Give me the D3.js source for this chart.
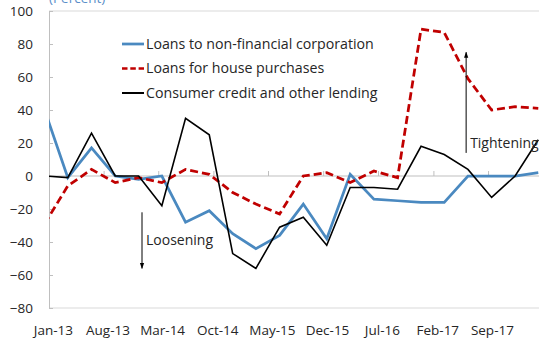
<!DOCTYPE html>
<html>
<head>
<meta charset="utf-8">
<script src="https://cdn.jsdelivr.net/npm/d3@7"></script>
<style>
  html, body { margin: 0; padding: 0; background: #fff; }
  svg { display: block; }
  text { font-family: "Open Sans", "Noto Sans", sans-serif; }
</style>
</head>
<body>
<svg id="chart" width="539" height="341"></svg>
<script>
// ---- data (quarterly observations; first one falls just before the axis start) ----
const dates = ["2012-12-15","2013-03-15","2013-06-15","2013-09-15","2013-12-15",
  "2014-03-15","2014-06-15","2014-09-15","2014-12-15","2015-03-15","2015-06-15",
  "2015-09-15","2015-12-15","2016-03-15","2016-06-15","2016-09-15","2016-12-15",
  "2017-03-15","2017-06-15","2017-09-15","2017-12-15","2018-03-15"];
const corporations = [40, -1, 17, 0, -2, 0, -28, -21, -35, -44, -36, -17, -38, 1, -14, -15, -16, -16, 0, 0, 0, 2];
const housePurchases = [-29, -6, 4, -4, -1, -4, 4, 1, -10, -17, -23, 0, 2, -4, 3, -1, 89, 87, 59, 40, 42, 41];
const consumerCredit = [0, -1, 26, 0, 0, -18, 35, 25, -47, -56, -31, -25, -42, -7, -7, -8, 18, 13, 4, -13, 0, 22];
const seriesNames = ["Loans to non-financial corporation", "Loans for house purchases", "Consumer credit and other lending"];
const xTickLabels = ["Jan-13","Aug-13","Mar-14","Oct-14","May-15","Dec-15","Jul-16","Feb-17","Sep-17"];
const yTicks = [-80, -60, -40, -20, 0, 20, 40, 60, 80, 100];
const unitLabel = "(Percent)";
const annotations = [
  {text: "Loosening", date: "2013-12-28", from: -22, to: -56},
  {text: "Tightening", date: "2017-06-08", from: 14, to: 75}
];

// ---- layout ----
const svg = d3.select("#chart");
const mLeft = 49, mTop = 11, mBottom = 308, mRight = 570;
const parse = d3.timeParse("%Y-%m-%d");
const parseTick = d3.timeParse("%b-%y");
const tickDates = xTickLabels.map(parseTick);

const x = d3.scaleTime()
  .domain([parseTick("Jan-13"), parseTick("Sep-17")])
  .range([mLeft, mLeft + 56 * 7.84]);
const y = d3.scaleLinear().domain([-80, 100]).range([mBottom, mTop]);

const textColor = "#262626";

// clip
const defs = svg.append("defs");
defs.append("clipPath").attr("id", "clip")
  .append("rect").attr("x", mLeft).attr("y", mTop).attr("width", mRight - mLeft).attr("height", mBottom - mTop);

// plot border (top / bottom)
svg.append("line").attr("x1", mLeft).attr("x2", mRight).attr("y1", y(100)).attr("y2", y(100))
  .attr("stroke", "#d9d9d9").attr("stroke-width", 1);
svg.append("line").attr("x1", mLeft).attr("x2", mRight).attr("y1", y(-80)).attr("y2", y(-80))
  .attr("stroke", "#d9d9d9").attr("stroke-width", 1);

// y axis
const yAxis = svg.append("g").attr("transform", `translate(${mLeft},0)`)
  .call(d3.axisLeft(y).tickValues(yTicks).tickSizeInner(-4).tickSizeOuter(0).tickPadding(16));
yAxis.select(".domain").attr("stroke", "#bfbfbf");
yAxis.selectAll(".tick line").attr("stroke", "#bfbfbf");
yAxis.selectAll("text").attr("fill", textColor).style("font-size", "13.5px")
  .style("font-family", "'Open Sans', sans-serif");

// zero line with upward ticks
const zeroAxis = svg.append("g").attr("transform", `translate(0,${y(0)})`)
  .call(d3.axisTop(x).tickValues(tickDates).tickSizeInner(5).tickSizeOuter(0).tickFormat(""));
zeroAxis.select(".domain").attr("stroke", "#bfbfbf").attr("d", `M${mLeft},0H${mRight}`);
zeroAxis.selectAll(".tick line").attr("stroke", "#bfbfbf");

// bottom labels (centred within their month)
const labelAxis = svg.append("g").attr("transform", `translate(0,${mBottom})`)
  .call(d3.axisBottom(x)
    .tickValues(tickDates.map(d => d3.timeDay.offset(d, 15)))
    .tickSize(0).tickPadding(17)
    .tickFormat((d, i) => xTickLabels[i]));
labelAxis.select(".domain").remove();
labelAxis.selectAll("text").attr("fill", textColor).style("font-size", "13.5px")
  .style("font-family", "'Open Sans', sans-serif");

// unit label (partly cut at top, as in the source)
svg.append("text").attr("x", mLeft).attr("y", 3).text(unitLabel)
  .attr("fill", "#5b8fc9").style("font-size", "13.5px");

// lines
const seriesData = [
  {name: seriesNames[0], values: corporations, color: "#4a89c0", width: 2.75, dash: null},
  {name: seriesNames[1], values: housePurchases, color: "#c00000", width: 2.75, dash: "8,4"},
  {name: seriesNames[2], values: consumerCredit, color: "#000000", width: 1.6, dash: null}
];
const line = d3.line().x(d => x(d.date)).y(d => y(d.v));
const plot = svg.append("g").attr("clip-path", "url(#clip)");
seriesData.forEach(s => {
  const pts = dates.map((d, i) => ({date: parse(d), v: s.values[i]}));
  plot.append("path").datum(pts).attr("d", line)
    .attr("fill", "none").attr("stroke", s.color).attr("stroke-width", s.width)
    .attr("stroke-linejoin", "miter")
    .attr("stroke-dasharray", s.dash);
});

// annotations
defs.append("marker").attr("id", "arrow").attr("viewBox", "0 0 10 10")
  .attr("refX", 9).attr("refY", 5).attr("markerWidth", 6).attr("markerHeight", 6)
  .attr("orient", "auto-start-reverse")
  .append("path").attr("d", "M0,1.5L10,5L0,8.5Z").attr("fill", "#000");
annotations.forEach(a => {
  const ax = x(parse(a.date));
  svg.append("line").attr("x1", ax).attr("x2", ax).attr("y1", y(a.from)).attr("y2", y(a.to))
    .attr("stroke", "#000").attr("stroke-width", 1).attr("marker-end", "url(#arrow)");
  const ty = a.to > a.from ? y(a.from) - 10 : y(a.from) + 28;
  svg.append("text").attr("x", ax + 4).attr("y", ty).attr("dy", "0.35em").text(a.text)
    .attr("fill", textColor).style("font-size", "14px");
});

// legend
const legend = svg.append("g").attr("transform", "translate(122,44)");
seriesData.forEach((s, i) => {
  const g = legend.append("g").attr("transform", `translate(0,${i * 24.5})`);
  g.append("line").attr("x1", 0).attr("x2", 22).attr("y1", 0).attr("y2", 0)
    .attr("stroke", s.color).attr("stroke-width", s.dash ? 2.5 : (i === 0 ? 2.75 : 2))
    .attr("stroke-dasharray", s.dash ? "5.5,2.8" : null);
  g.append("text").attr("x", 24).attr("y", 0).attr("dy", "0.35em").text(s.name)
    .attr("fill", textColor).style("font-size", "14.2px");
});
</script>
</body>
</html>
